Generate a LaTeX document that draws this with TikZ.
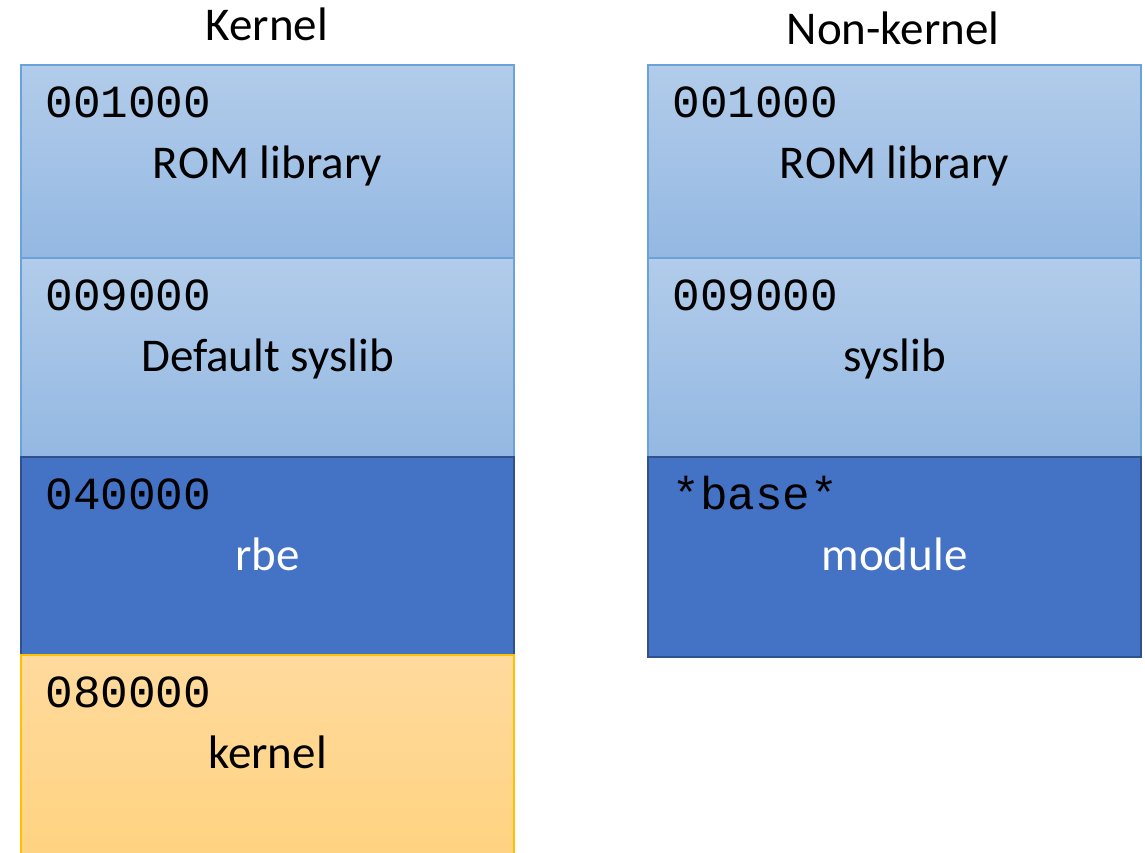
\documentclass[tikz,border=0pt]{standalone}
\usepackage{fontspec}
\setmainfont{Carlito}
\setmonofont{Liberation Mono}
\usetikzlibrary{positioning}
\definecolor{liteTop}{HTML}{B2CCEA}
\definecolor{liteBot}{HTML}{94B8E2}
\definecolor{liteLine}{HTML}{6AA3DB}
\definecolor{darkFill}{HTML}{4472C4}
\definecolor{darkLine}{HTML}{2F528F}
\definecolor{kernTop}{HTML}{FFDA9D}
\definecolor{kernBot}{HTML}{FFD27E}
\definecolor{kernLine}{HTML}{FFC000}

\begin{document}
\begin{tikzpicture}[x=1pt,y=-1pt,every node/.style={font=\fontsize{47}{54}\selectfont}]
\tikzset{
  seg/.style={rectangle, minimum width=493pt, inner sep=0, outer sep=0, line width=1.2pt},
  lite/.style={seg, draw=liteLine, top color=liteTop, bottom color=liteBot},
  dark/.style={seg, draw=darkLine, fill=darkFill},
  kern/.style={seg, draw=kernLine, top color=kernTop, bottom color=kernBot},
  addr/.style={font=\ttfamily\fontsize{46}{50}\selectfont, anchor=base west, xshift=21pt, yshift=-52pt},
  lbl/.style={anchor=base, yshift=-113pt}
}
\clip (0,0) rectangle (1145,852);
% headings
\node[anchor=base] (kt) at (267,40) {Kernel};
\node[anchor=base] (nt) at (893,44) {Non-kernel};
% kernel column
\node[lite, minimum height=193pt, anchor=north west] (krom) at (21,65) {};
\node[lite, minimum height=199pt, below=0pt of krom] (ksys) {};
\node[dark, minimum height=198pt, below=0pt of ksys] (krbe) {};
\node[kern, minimum height=220pt, below=0pt of krbe] (kker) {};
% non-kernel column
\node[lite, minimum height=193pt, anchor=north west] (nrom) at (648,65) {};
\node[lite, minimum height=199pt, below=0pt of nrom] (nsys) {};
\node[dark, minimum height=200pt, below=0pt of nsys] (nmod) {};
% addresses
\foreach \b/\a in {krom/001000, ksys/009000, krbe/040000, kker/080000,
                   nrom/001000, nsys/009000, nmod/*base*}
  \node[addr] (\b-a) at (\b.north west) {\a};
% contents
\foreach \b/\t in {krom/ROM library, ksys/Default syslib, kker/kernel,
                   nrom/ROM library, nsys/syslib}
  \node[lbl] (\b-t) at (\b.north) {\t};
\foreach \b/\t in {krbe/rbe, nmod/module}
  \node[lbl, text=white] (\b-t) at (\b.north) {\t};
\end{tikzpicture}
\end{document}
